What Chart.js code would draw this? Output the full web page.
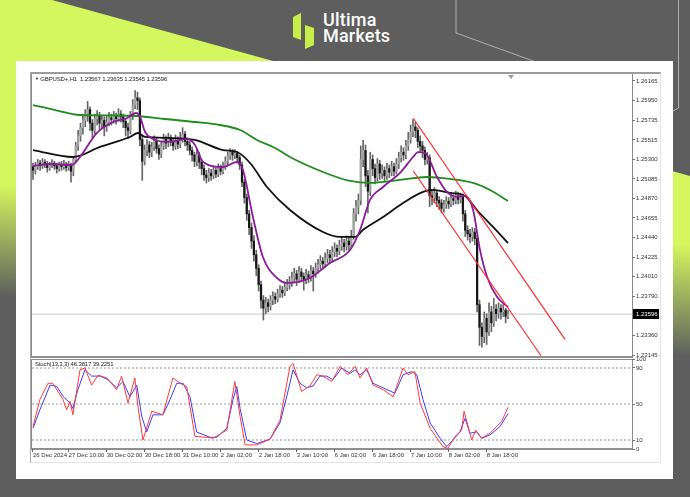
<!DOCTYPE html>
<html><head><meta charset="utf-8">
<script src="https://cdn.jsdelivr.net/npm/chart.js@4.4.1/dist/chart.umd.min.js"></script>
<style>
html,body{margin:0;padding:0;}
body{width:690px;height:497px;position:relative;overflow:hidden;background:#5e5e5e;font-family:'Liberation Sans',Arial,sans-serif;}
.abs{position:absolute;box-sizing:border-box;}
#lime{left:0;top:0;width:690px;height:497px;clip-path:polygon(0 0,52px 0,690px 176px,690px 497px,0 497px);background:linear-gradient(185deg,#d4f65e 0%,#d4f65e 44%,#5e5e5e 64%);}
#panel{left:16px;top:61px;width:657px;height:418px;background:#fff;}
#win{left:30px;top:72px;width:631px;height:391px;border-left:1px solid #a8a8a8;border-top:2px solid #9c9c9c;border-right:1px solid #e4e4e4;border-bottom:1px solid #e4e4e4;}
#mainbox{left:31px;top:74px;width:602px;height:284px;border-left:1px solid #8a8a8a;border-right:1px solid #8a8a8a;border-bottom:2px solid #8f8f8f;}
#stochbox{left:31px;top:359px;width:602px;height:91px;border-top:1px solid #8a8a8a;border-left:1px solid #8a8a8a;border-right:1px solid #8a8a8a;border-bottom:2px solid #8f8f8f;}
#title{left:35px;top:76px;font-size:6px;color:#222;white-space:nowrap;letter-spacing:-0.15px;}
#stitle{left:35px;top:361px;font-size:6px;color:#222;white-space:nowrap;letter-spacing:-0.15px;}
#shift{left:508px;top:75px;width:0;height:0;border-left:3px solid transparent;border-right:3px solid transparent;border-top:4px solid #9a9a9a;}
#logo1{left:323px;top:12px;font-size:18px;color:#fff;font-family:Roboto,'Liberation Sans',sans-serif;font-weight:500;line-height:16px;letter-spacing:0.2px;}
</style></head>
<body>
<div id="lime" class="abs"></div>
<svg class="abs" style="left:0;top:0" width="690" height="497">
  <polyline points="456,0 456,33 536,62" fill="none" stroke="#b0b0b0" stroke-width="1"/>
  <polyline points="678.5,0 678.5,108 673,111" fill="none" stroke="#b0b0b0" stroke-width="1"/>
  <polygon points="293,17 301,13 301,40 293,37" fill="#c8ee4a"/>
  <polygon points="305,25 314,28 314,45 305,49" fill="#c8ee4a"/>
</svg>
<div id="logo1" class="abs">Ultima<br>Markets</div>
<div id="panel" class="abs"></div>
<div id="win" class="abs"></div>
<div id="mainbox" class="abs"></div>
<div id="stochbox" class="abs"></div>
<div id="mainWrap" class="abs" style="left:28px;top:70px;width:634px;height:292px;"><canvas id="main" width="634" height="292"></canvas></div>
<div id="stochWrap" class="abs" style="left:28px;top:355px;width:634px;height:108px;"><canvas id="stoch" width="634" height="108"></canvas></div>
<div id="title" class="abs"><span style="font-size:4px;vertical-align:1px">▼</span> GBPUSD+,H1&nbsp; 1.23567 1.23635 1.23545 1.23596</div>
<div id="stitle" class="abs">Stoch(13,3,3) 46.3817 39.2251</div>
<div id="shift" class="abs"></div>
<script>
// ---------- data (H1 bars, index 0 = 26 Dec 2024 19:00) ----------
const opens = [1.2522,1.2518,1.2522,1.2526,1.2523,1.2527,1.2525,1.2521,1.2524,1.2526,
1.2523,1.2520,1.2524,1.2522,1.2525,1.2521,1.2523,1.2517,1.2530,1.2545,
1.2556,1.2565,1.2573,1.2580,1.2585,1.2570,1.2562,1.2575,1.2578,1.2570,
1.2573,1.2566,1.2571,1.2576,1.2574,1.2578,1.2575,1.2580,1.2577,1.2572,
1.2565,1.2562,1.2578,1.2590,1.2598,1.2595,1.2552,1.2528,1.2540,1.2546,
1.2538,1.2544,1.2550,1.2542,1.2536,1.2545,1.2552,1.2548,1.2554,1.2550,
1.2545,1.2551,1.2547,1.2553,1.2558,1.2550,1.2546,1.2540,1.2535,1.2528,
1.2535,1.2527,1.2520,1.2513,1.2510,1.2515,1.2512,1.2518,1.2514,1.2520,
1.2517,1.2523,1.2528,1.2534,1.2538,1.2535,1.2537,1.2532,1.2524,1.2505,
1.2488,1.2470,1.2455,1.2440,1.2425,1.2410,1.2392,1.2375,1.2366,1.2372,
1.2368,1.2375,1.2379,1.2376,1.2382,1.2386,1.2383,1.2389,1.2392,1.2395,
1.2399,1.2404,1.2398,1.2406,1.2401,1.2397,1.2403,1.2400,1.2407,1.2404,
1.2410,1.2414,1.2418,1.2415,1.2421,1.2425,1.2422,1.2428,1.2432,1.2429,
1.2435,1.2438,1.2434,1.2440,1.2436,1.2445,1.2470,1.2478,1.2485,1.2530,
1.2540,1.2512,1.2495,1.2530,1.2520,1.2510,1.2525,1.2515,1.2518,1.2512,
1.2520,1.2516,1.2522,1.2517,1.2525,1.2532,1.2538,1.2535,1.2545,1.2552,
1.2560,1.2566,1.2562,1.2550,1.2545,1.2540,1.2530,1.2532,1.2490,1.2488,
1.2493,1.2485,1.2482,1.2476,1.2480,1.2484,1.2481,1.2487,1.2485,1.2490,
1.2486,1.2489,1.2470,1.2452,1.2448,1.2445,1.2450,1.2443,1.2370,1.2345,
1.2335,1.2355,1.2340,1.2362,1.2350,1.2365,1.2360,1.2366,1.2362,1.2364,
1.23567];
const highs = [1.2526,1.2527,1.2530,1.2529,1.2531,1.2530,1.2528,1.2527,1.2530,1.2528,
1.2526,1.2527,1.2528,1.2529,1.2527,1.2528,1.2526,1.2533,1.2549,1.2562,
1.2570,1.2580,1.2585,1.2594,1.2588,1.2574,1.2580,1.2584,1.2582,1.2579,
1.2577,1.2578,1.2582,1.2580,1.2583,1.2581,1.2586,1.2584,1.2580,1.2575,
1.2570,1.2583,1.2596,1.2606,1.2604,1.2598,1.2556,1.2546,1.2552,1.2550,
1.2549,1.2556,1.2554,1.2546,1.2550,1.2558,1.2556,1.2559,1.2557,1.2553,
1.2557,1.2555,1.2560,1.2565,1.2561,1.2554,1.2550,1.2544,1.2538,1.2540,
1.2538,1.2530,1.2524,1.2518,1.2520,1.2519,1.2523,1.2521,1.2525,1.2524,
1.2527,1.2533,1.2538,1.2542,1.2541,1.2541,1.2539,1.2535,1.2527,1.2508,
1.2492,1.2474,1.2460,1.2446,1.2430,1.2414,1.2396,1.2380,1.2378,1.2376,
1.2380,1.2384,1.2383,1.2387,1.2391,1.2390,1.2395,1.2398,1.2401,1.2406,
1.2410,1.2408,1.2412,1.2410,1.2405,1.2409,1.2407,1.2413,1.2411,1.2416,
1.2420,1.2424,1.2422,1.2427,1.2431,1.2430,1.2434,1.2438,1.2436,1.2441,
1.2444,1.2442,1.2446,1.2445,1.2452,1.2476,1.2485,1.2492,1.2545,1.2551,
1.2546,1.2518,1.2538,1.2535,1.2525,1.2531,1.2529,1.2524,1.2522,1.2526,
1.2524,1.2528,1.2526,1.2531,1.2538,1.2545,1.2543,1.2551,1.2560,1.2568,
1.2574,1.2571,1.2565,1.2556,1.2550,1.2544,1.2538,1.2535,1.2497,1.2499,
1.2496,1.2489,1.2486,1.2485,1.2489,1.2488,1.2492,1.2491,1.2495,1.2494,
1.2493,1.2492,1.2474,1.2457,1.2453,1.2455,1.2454,1.2446,1.2375,1.2350,
1.2362,1.2360,1.2372,1.2368,1.2377,1.2370,1.2372,1.2370,1.2370,1.2366,
1.23635];
const lows = [1.2508,1.2514,1.2519,1.2518,1.2520,1.2521,1.2516,1.2518,1.2521,1.2519,
1.2515,1.2517,1.2518,1.2519,1.2517,1.2518,1.2505,1.2512,1.2527,1.2540,
1.2550,1.2558,1.2566,1.2572,1.2562,1.2554,1.2558,1.2568,1.2563,1.2565,
1.2556,1.2561,1.2567,1.2568,1.2570,1.2569,1.2572,1.2571,1.2565,1.2556,
1.2553,1.2558,1.2574,1.2586,1.2585,1.2545,1.2507,1.2524,1.2534,1.2532,
1.2533,1.2540,1.2537,1.2530,1.2532,1.2541,1.2542,1.2544,1.2545,1.2540,
1.2541,1.2542,1.2543,1.2549,1.2545,1.2540,1.2535,1.2528,1.2522,1.2523,
1.2520,1.2513,1.2507,1.2504,1.2506,1.2507,1.2509,1.2510,1.2511,1.2513,
1.2514,1.2519,1.2524,1.2530,1.2529,1.2531,1.2526,1.2519,1.2500,1.2482,
1.2463,1.2447,1.2432,1.2418,1.2402,1.2385,1.2366,1.2353,1.2360,1.2362,
1.2364,1.2370,1.2371,1.2373,1.2378,1.2378,1.2380,1.2385,1.2387,1.2390,
1.2394,1.2391,1.2394,1.2395,1.2386,1.2393,1.2394,1.2396,1.2385,1.2400,
1.2405,1.2409,1.2409,1.2411,1.2416,1.2416,1.2418,1.2423,1.2423,1.2425,
1.2430,1.2428,1.2430,1.2430,1.2432,1.2442,1.2462,1.2470,1.2480,1.2522,
1.2500,1.2471,1.2490,1.2512,1.2503,1.2506,1.2508,1.2509,1.2506,1.2508,
1.2510,1.2512,1.2512,1.2514,1.2520,1.2527,1.2529,1.2531,1.2540,1.2548,
1.2555,1.2554,1.2543,1.2538,1.2532,1.2524,1.2525,1.2478,1.2480,1.2482,
1.2478,1.2475,1.2471,1.2472,1.2476,1.2476,1.2478,1.2480,1.2481,1.2481,
1.2482,1.2462,1.2445,1.2441,1.2438,1.2440,1.2436,1.2362,1.2325,1.2323,
1.2328,1.2326,1.2336,1.2340,1.2346,1.2352,1.2355,1.2354,1.2357,1.2350,
1.23545];
const closes = [1.2518,1.2522,1.2526,1.2523,1.2527,1.2525,1.2521,1.2524,1.2526,1.2523,
1.2520,1.2524,1.2522,1.2525,1.2521,1.2523,1.2517,1.2530,1.2545,1.2556,
1.2565,1.2573,1.2580,1.2585,1.2570,1.2562,1.2575,1.2578,1.2570,1.2573,
1.2566,1.2571,1.2576,1.2574,1.2578,1.2575,1.2580,1.2577,1.2572,1.2565,
1.2562,1.2578,1.2590,1.2598,1.2595,1.2552,1.2528,1.2540,1.2546,1.2538,
1.2544,1.2550,1.2542,1.2536,1.2545,1.2552,1.2548,1.2554,1.2550,1.2545,
1.2551,1.2547,1.2553,1.2558,1.2550,1.2546,1.2540,1.2535,1.2528,1.2535,
1.2527,1.2520,1.2513,1.2510,1.2515,1.2512,1.2518,1.2514,1.2520,1.2517,
1.2523,1.2528,1.2534,1.2538,1.2535,1.2537,1.2532,1.2524,1.2505,1.2488,
1.2470,1.2455,1.2440,1.2425,1.2410,1.2392,1.2375,1.2366,1.2372,1.2368,
1.2375,1.2379,1.2376,1.2382,1.2386,1.2383,1.2389,1.2392,1.2395,1.2399,
1.2404,1.2398,1.2406,1.2401,1.2397,1.2403,1.2400,1.2407,1.2404,1.2410,
1.2414,1.2418,1.2415,1.2421,1.2425,1.2422,1.2428,1.2432,1.2429,1.2435,
1.2438,1.2434,1.2440,1.2436,1.2445,1.2470,1.2478,1.2485,1.2530,1.2540,
1.2512,1.2495,1.2530,1.2520,1.2510,1.2525,1.2515,1.2518,1.2512,1.2520,
1.2516,1.2522,1.2517,1.2525,1.2532,1.2538,1.2535,1.2545,1.2552,1.2560,
1.2566,1.2562,1.2550,1.2545,1.2540,1.2530,1.2532,1.2490,1.2488,1.2493,
1.2485,1.2482,1.2476,1.2480,1.2484,1.2481,1.2487,1.2485,1.2490,1.2486,
1.2489,1.2470,1.2452,1.2448,1.2445,1.2450,1.2443,1.2370,1.2345,1.2335,
1.2355,1.2340,1.2362,1.2350,1.2365,1.2360,1.2366,1.2362,1.2364,1.2357,
1.23596];

// moving averages (bar position, value)
const greenBars = [0,9.3,19.8,32.4,43.8,55.6,68.2,78.7,87.2,94.3,101.9,108.2,122.1,133.5,141.9,154.5,165.9,175.6,185.3,192.4,200];
const greenVals = [1.25900,1.25845,1.25790,1.25785,1.25779,1.25746,1.25713,1.25680,1.25625,1.25515,1.25427,1.25327,1.25162,1.25063,1.25041,1.25074,1.25107,1.25085,1.25041,1.24963,1.24842];
const blackBars = [0,16.8,28.2,40.8,44.2,47.2,57.7,68.2,80,85.9,91.4,98.5,108.2,122.1,129.3,135.6,138.9,147.4,155.8,164.2,168.4,175.6,181.9,186.9,193.7,200];
const blackVals = [1.25404,1.25327,1.25438,1.25548,1.25592,1.25548,1.25537,1.25515,1.25404,1.25382,1.25261,1.24997,1.24743,1.24501,1.24446,1.24446,1.24523,1.24666,1.24820,1.24942,1.24964,1.24931,1.24898,1.24743,1.24556,1.24379];
const purpleBars = [0,7.2,16.4,19.8,26.9,33.7,39.6,43.4,45.1,47.2,50.5,57.7,64.8,68.2,71.6,80,85.9,88.4,92.6,96.8,102.7,106.9,116.6,125,133.5,137.7,141.9,147.4,154.5,160,162.1,165.1,170.1,174.3,178.5,181.9,185.3,188.2,191.2,195.4,200];
const purpleVals = [1.25228,1.25250,1.25239,1.25327,1.25592,1.25713,1.25757,1.25812,1.25768,1.25603,1.25526,1.25493,1.25526,1.25460,1.25272,1.25217,1.25272,1.25184,1.24666,1.24225,1.23994,1.23939,1.23994,1.24159,1.24303,1.24523,1.24854,1.24997,1.25151,1.25327,1.25382,1.25371,1.25107,1.24942,1.24887,1.24898,1.24743,1.24303,1.24005,1.23784,1.23674];

// descending channel (bar position, price)
const channelUpperBars = [160.1, 224];
const channelUpperVals = [1.25754, 1.23318];
const channelLowerBars = [160.1, 213.9];
const channelLowerVals = [1.25173, 1.23137];

// stochastic (13,3,3)
const kBars = [0,2.9,6.3,8.4,12.6,14.2,15.6,16.8,19.8,21.9,24.7,27.4,31,35.2,37.3,40,42.9,44.2,46.3,50,54.7,58.9,61.9,64.7,68.2,73.1,75.8,81.6,85,87.2,89.3,94.2,99.8,104,108.2,109.5,113.1,116.6,119.5,122.1,125.8,129.3,132.6,135.6,137.7,140.5,143.2,147.4,151.6,155.8,157.9,160.8,163,167.2,172.6,174.7,177.7,180.5,181.5,184.7,186.4,188.9,192.4,197.3,200];
const kVals = [25,55,73,73,55,43.5,53,38,88,90,71,82,79,66,81,51,79,47,10,42,38,79,73,69.5,14,13,12,21,75,36,4.5,4.5,11,32,92,95,64,70,82.5,81,75,92,82.5,92,79,90,71,66,58,90,82.5,86,51,23,2.6,0.7,14,21,42,10,21,12,17.5,30.5,46.38];
const dBars = [0,2.9,7.2,10,12.8,15.6,16.8,18.9,21.9,24.7,28.2,31.6,35.2,37.9,40.8,43.7,45.8,47.9,50.5,54.7,57.7,60.5,63.2,66.1,68.9,74.5,77.3,81.6,84.2,85.8,87.2,90,94.2,99.8,104,106.8,109.5,112.4,115.2,117.9,120.8,123.7,126.3,130,133.5,135.6,137.7,140.5,143.2,147.4,152.4,155.8,159.5,161.6,164.2,167.2,171.4,174.2,176.8,179.8,181.9,184,186.8,188.9,192.4,196.6,200];
const dVals = [23,43.5,71,69.5,58,51,45,66,88,81,81,77,68,75,58,71,36,19,38,38,55,73,73,58,19,13,13,23,55,69.5,45,10,6,11,29,58,88,73,68,70,81,81,77,90,84,88,82.5,88,73,68,62,82.5,86,82.5,55,29,12,2.6,10,19,34,17.5,19,12,15.6,25,39.23];
const stochLevels = [10, 50, 90];

// axes
const priceTicks = [1.26165,1.25950,1.25735,1.25515,1.25300,1.25085,1.24870,1.24655,1.24440,1.24225,1.24010,1.23790,1.23360,1.23145];
const stochTicks = [0,10,50,90,100];
const dateTicks = [0,15,31,47,63,79,95,111,127,143,159,175,191];
const dateLabels = ['26 Dec 2024','27 Dec 10:00','30 Dec 02:00','30 Dec 18:00','31 Dec 10:00','2 Jan 02:00','2 Jan 18:00','3 Jan 10:00','6 Jan 02:00','6 Jan 18:00','7 Jan 10:00','8 Jan 02:00','8 Jan 18:00'];
const xMin = -0.42, xMax = 252.2;
const priceMin = 1.23112, priceMax = 1.26242;
const lastClose = closes[closes.length - 1];

// ---------- build ----------
Chart.defaults.font.family = "'Liberation Sans', Arial, sans-serif";
Chart.defaults.font.size = 6;
Chart.defaults.color = '#333';
const pts = (xs, ys) => xs.map((x, i) => ({x: x, y: ys[i]}));
const idx = closes.map((_, i) => i);

const lastPricePlugin = {
  id: 'lastPrice',
  afterDraw(chart) {
    const y = chart.scales.y.getPixelForValue(lastClose);
    const ctx = chart.ctx, x0 = chart.chartArea.right + 1;
    ctx.save();
    ctx.fillStyle = '#000';
    ctx.fillRect(x0, Math.round(y) - 5, 26, 10);
    ctx.fillStyle = '#fff';
    ctx.font = "6px 'Liberation Sans', Arial";
    ctx.textBaseline = 'middle';
    ctx.fillText(lastClose.toFixed(5), x0 + 3, Math.round(y) + 0.5);
    ctx.restore();
  }
};

const lineDs = (data, color, width, order, extra) => Object.assign({
  type: 'line', data: data, borderColor: color, borderWidth: width, pointRadius: 0,
  fill: false, order: order, tension: 0
}, extra || {});

new Chart(document.getElementById('main'), {
  data: {
    datasets: [
      lineDs(pts(channelUpperBars, channelUpperVals), '#ff2b2b', 1.2, 1),
      lineDs(pts(channelLowerBars, channelLowerVals), '#ff2b2b', 1.2, 1),
      lineDs(pts(purpleBars, purpleVals), '#8c1b9c', 1.8, 2, {cubicInterpolationMode: 'monotone'}),
      lineDs(pts(blackBars, blackVals), '#111111', 1.8, 3, {cubicInterpolationMode: 'monotone'}),
      lineDs(pts(greenBars, greenVals), '#1f8c1f', 1.8, 3, {cubicInterpolationMode: 'monotone'}),
      {
        type: 'bar', order: 5, grouped: false, barThickness: 1.6, minBarLength: 1,
        data: idx.map(i => ({x: i, y: [opens[i], closes[i]]})),
        backgroundColor: idx.map(i => closes[i] >= opens[i] ? '#a4a4a4' : '#161616'),
        borderWidth: 0
      },
      {
        type: 'bar', order: 6, grouped: false, barThickness: 1,
        data: idx.map(i => ({x: i, y: [lows[i], highs[i]]})),
        backgroundColor: '#666666', borderWidth: 0
      },
      lineDs([{x: xMin, y: lastClose}, {x: xMax, y: lastClose}], '#c8c8c8', 1, 7)
    ]
  },
  options: {
    responsive: false, animation: false, events: [],
    layout: {padding: {left: 4, top: 4, right: 0, bottom: 4}},
    plugins: {legend: {display: false}, tooltip: {enabled: false}},
    scales: {
      x: {type: 'linear', display: false, min: xMin, max: xMax, offset: false},
      y: {
        type: 'linear', position: 'right', min: priceMin, max: priceMax,
        afterBuildTicks: s => { s.ticks = priceTicks.map(v => ({value: v})); },
        afterFit: s => { s.width = 30; },
        grid: {drawOnChartArea: false, drawTicks: true, tickLength: 3, color: '#777'},
        border: {display: false},
        ticks: {padding: 1, font: {size: 6, lineHeight: 1}, callback: v => Number(v).toFixed(5)}
      }
    }
  },
  plugins: [lastPricePlugin]
});

new Chart(document.getElementById('stoch'), {
  data: {
    datasets: [
      lineDs(pts(kBars, kVals), '#ff3b3b', 1, 1),
      lineDs(pts(dBars, dVals), '#3b3bff', 1, 2),
      ...stochLevels.map(l => lineDs([{x: xMin, y: l}, {x: xMax, y: l}], '#9a9a9a', 1, 5, {borderDash: [2, 2]}))
    ]
  },
  options: {
    responsive: false, animation: false, events: [],
    layout: {padding: {left: 4, top: 4, right: 0, bottom: 0}},
    plugins: {legend: {display: false}, tooltip: {enabled: false}},
    scales: {
      x: {
        type: 'linear', position: 'bottom', min: xMin, max: xMax, offset: false,
        afterBuildTicks: s => { s.ticks = dateTicks.map(v => ({value: v})); },
        afterFit: s => { s.height = 14; },
        grid: {drawOnChartArea: false, drawTicks: true, tickLength: 3, color: '#666', offset: false},
        border: {display: false},
        ticks: {align: 'start', padding: 0, maxRotation: 0, autoSkip: false, font: {size: 6},
                callback: (v, i) => dateLabels[i]}
      },
      y: {
        type: 'linear', position: 'right', min: 0, max: 100,
        afterBuildTicks: s => { s.ticks = stochTicks.map(v => ({value: v})); },
        afterFit: s => { s.width = 30; },
        grid: {drawOnChartArea: false, drawTicks: true, tickLength: 3, color: '#777'},
        border: {display: false},
        ticks: {padding: 1, font: {size: 6, lineHeight: 1}, callback: v => String(v)}
      }
    }
  }
});
</script>
</body></html>
